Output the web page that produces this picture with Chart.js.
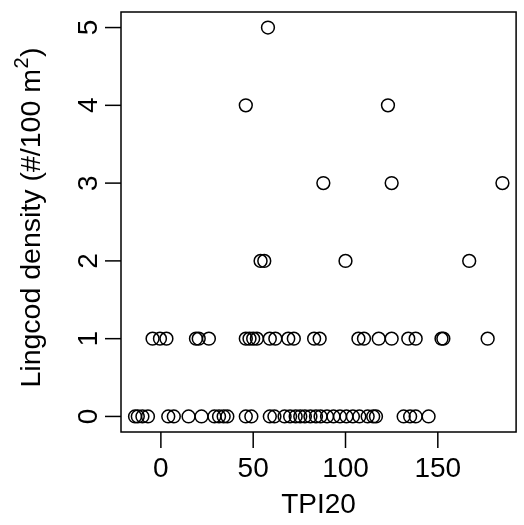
<!DOCTYPE html>
<html>
<head>
<meta charset="utf-8">
<title>Lingcod density vs TPI20</title>
<script src="https://cdn.jsdelivr.net/npm/chart.js@4/dist/chart.umd.min.js"></script>
<style>
  html, body { margin: 0; padding: 0; background: #fff; }
  #wrap { width: 524px; height: 525px; }
</style>
</head>
<body>
<div id="wrap"><canvas id="chart" width="524" height="525"></canvas></div>
<script>
// TPI20 readings, grouped by the lingcod density seen at each site
const tpiAtDensity0 = [-14, -12.5, -10, -7, 4, 7, 15, 22, 29, 31.5, 34, 36, 46, 49,
  59, 61.5, 67, 70, 73, 75.5, 78, 81, 84, 86.5, 90, 93.5, 97, 100.5, 104, 107.5,
  112, 115, 116.5, 131.5, 135, 138, 145];
const tpiAtDensity1 = [-4.5, -0.5, 3, 19, 20.5, 26, 46, 48, 50, 52, 59, 62, 69, 72,
  83, 86, 107, 110, 118, 125, 134, 138, 152, 153, 177];
const tpiAtDensity2 = [54, 56, 100, 167];
const tpiAtDensity3 = [88, 125, 185];
const tpiAtDensity4 = [46, 123];
const tpiAtDensity5 = [58];

const xTicks = [0, 50, 100, 150];
const yTicks = [0, 1, 2, 3, 4, 5];
const xTitle = 'TPI20';
const yTitle = 'Lingcod density (#/100 m';
const yTitleSup = '2';

(function(){
  const FONT = '"Liberation Sans", Arial, Helvetica, sans-serif';

  // flatten the groups into {x, y} points
  const groups = [tpiAtDensity0, tpiAtDensity1, tpiAtDensity2, tpiAtDensity3, tpiAtDensity4, tpiAtDensity5];
  const points = [];
  groups.forEach((list, density) => {
    list.forEach(v => points.push({ x: v, y: density }));
  });

  // R-style frame, ticks and labels drawn from the chart's own scales
  const rAxes = {
    id: 'rAxes',
    afterDraw(chart) {
      const ctx = chart.ctx;
      const a = chart.chartArea;
      const xs = chart.scales.x;
      const ys = chart.scales.y;
      ctx.save();
      ctx.strokeStyle = '#000';
      ctx.fillStyle = '#000';
      ctx.lineWidth = 1.5;

      // box
      ctx.strokeRect(a.left, a.top, a.right - a.left, a.bottom - a.top);

      // x ticks
      ctx.font = '28px ' + FONT;
      ctx.textAlign = 'center';
      ctx.textBaseline = 'alphabetic';
      xTicks.forEach(t => {
        const px = xs.getPixelForValue(t);
        ctx.beginPath();
        ctx.moveTo(px, a.bottom);
        ctx.lineTo(px, a.bottom + 16);
        ctx.stroke();
        ctx.fillText(String(t), px, 477);
      });

      // y ticks (labels turned, as R does by default)
      yTicks.forEach(t => {
        const py = ys.getPixelForValue(t);
        ctx.beginPath();
        ctx.moveTo(a.left, py);
        ctx.lineTo(a.left - 16, py);
        ctx.stroke();
        ctx.save();
        ctx.translate(97, py);
        ctx.rotate(-Math.PI / 2);
        ctx.fillText(String(t), 0, 0);
        ctx.restore();
      });

      // x title
      ctx.fillText(xTitle, (a.left + a.right) / 2, 513);

      // y title with superscript
      ctx.save();
      ctx.translate(40, 218);
      ctx.rotate(-Math.PI / 2);
      ctx.font = '28.5px ' + FONT;
      const w1 = ctx.measureText(yTitle).width;
      const w3 = ctx.measureText(')').width;
      ctx.font = '20px ' + FONT;
      const w2 = ctx.measureText(yTitleSup).width;
      let x0 = -(w1 + w2 + w3) / 2;
      ctx.textAlign = 'left';
      ctx.font = '28.5px ' + FONT;
      ctx.fillText(yTitle, x0, 0);
      ctx.font = '20px ' + FONT;
      ctx.fillText(yTitleSup, x0 + w1 + 0.5, -12);
      ctx.font = '28.5px ' + FONT;
      ctx.fillText(')', x0 + w1 + w2 + 1, 0);
      ctx.restore();

      ctx.restore();
    }
  };

  new Chart(document.getElementById('chart').getContext('2d'), {
    type: 'scatter',
    data: {
      datasets: [{
        data: points,
        pointStyle: 'circle',
        pointRadius: 6.4,
        pointHoverRadius: 6.4,
        borderWidth: 1.5,
        borderColor: '#000',
        backgroundColor: 'rgba(0,0,0,0)'
      }]
    },
    options: {
      responsive: false,
      animation: false,
      layout: { padding: { left: 121, top: 12, right: 2, bottom: 93 } },
      plugins: { legend: { display: false }, tooltip: { enabled: false } },
      scales: {
        x: { type: 'linear', display: false, min: -21.6, max: 192.4 },
        y: { type: 'linear', display: false, min: -0.2, max: 5.2 }
      }
    },
    plugins: [rAxes]
  });
})();
</script>
</body>
</html>
